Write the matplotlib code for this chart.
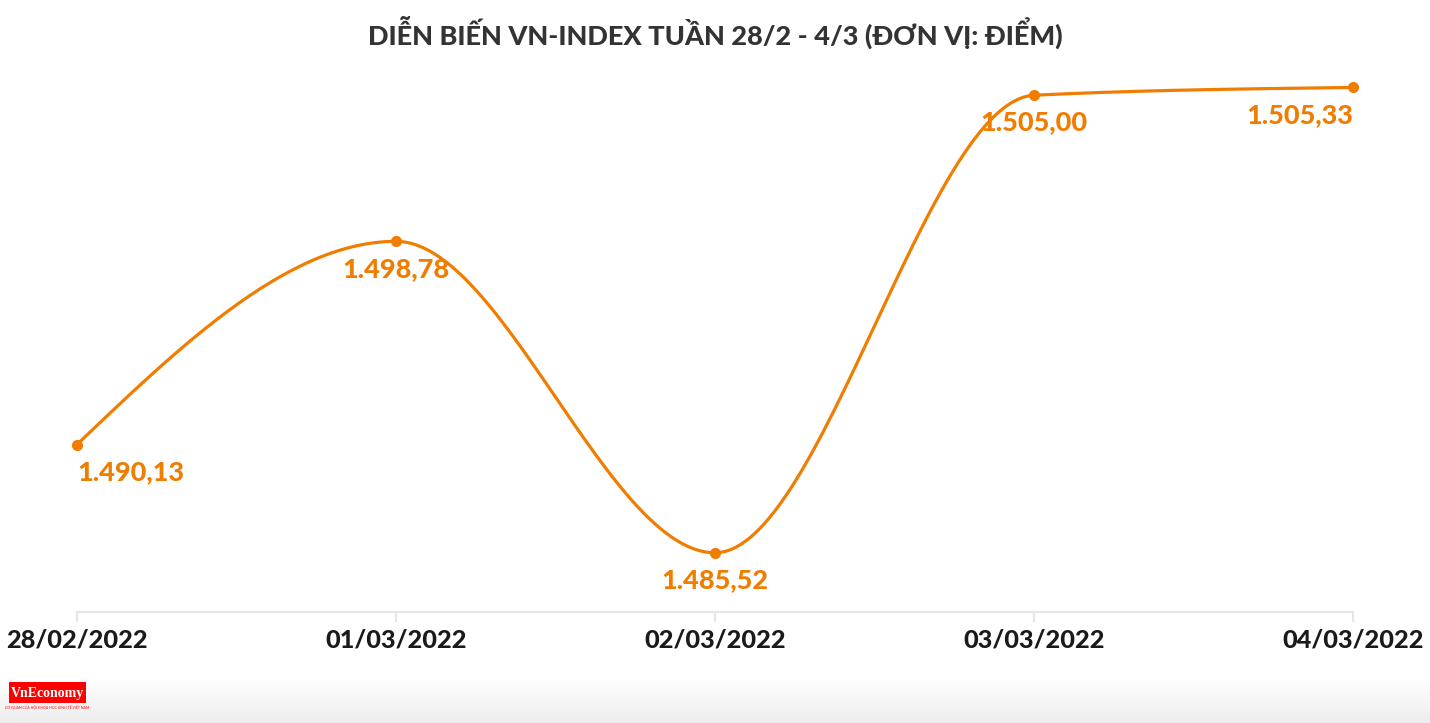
import numpy as np
import matplotlib
matplotlib.use("Agg")
import matplotlib.pyplot as plt
from matplotlib.patches import Rectangle

# ---------------------------------------------------------
# DATI
# ---------------------------------------------------------
dates = ["28/02/2022", "01/03/2022", "02/03/2022", "03/03/2022", "04/03/2022"]
values = [1490.13, 1498.78, 1485.52, 1505.00, 1505.33]
labels = ["1.490,13", "1.498,78", "1.485,52", "1.505,00", "1.505,33"]

ORANGE = "#f07d00"
W, H = 1430, 723


def monotone_curve(x, y, n=60):
    # curva monotona stile d3 (curveMonotoneX)
    x = np.asarray(x, float)
    y = np.asarray(y, float)
    h = np.diff(x)
    s = np.diff(y) / h
    t = np.zeros(len(x))
    for i in range(1, len(x) - 1):
        p = (s[i - 1] * h[i] + s[i] * h[i - 1]) / (h[i - 1] + h[i])
        t[i] = (np.sign(s[i - 1]) + np.sign(s[i])) * min(abs(s[i - 1]), abs(s[i]), 0.5 * abs(p))
    t[0] = (3 * s[0] - t[1]) / 2
    t[-1] = (3 * s[-1] - t[-2]) / 2
    xs, ys = [], []
    for i in range(len(x) - 1):
        u = np.linspace(0, 1, n)
        h00 = 2 * u**3 - 3 * u**2 + 1
        h10 = u**3 - 2 * u**2 + u
        h01 = -2 * u**3 + 3 * u**2
        h11 = u**3 - u**2
        xs.append(x[i] + u * h[i])
        ys.append(h00 * y[i] + h10 * h[i] * t[i] + h01 * y[i + 1] + h11 * h[i] * t[i + 1])
    return np.concatenate(xs), np.concatenate(ys)


plt.rcParams["font.family"] = ["Lato", "DejaVu Sans"]

fig = plt.figure(figsize=(W / 100, H / 100), dpi=100)
fig.patch.set_facecolor("white")

# sfumatura grigia in basso
bg = fig.add_axes([0, 0, 1, 45 / H])
g = np.linspace(1.0, 0.93, 50).reshape(-1, 1, 1) * np.ones((1, 1, 3))
bg.imshow(g, aspect="auto", extent=[0, 1, 0, 1])
bg.axis("off")

ax = fig.add_axes([77 / W, (H - 612) / H, 1276 / W, 552 / H])
ax.set_facecolor("none")

xi = np.arange(len(dates))
cx, cy = monotone_curve(xi, values)
ax.plot(cx, cy, color=ORANGE, lw=2.3, solid_capstyle="round", zorder=3, clip_on=False)
ax.plot(xi, values, "o", color=ORANGE, ms=7, zorder=4, clip_on=False)

aligns = ["left", "center", "center", "center", "right"]
for x, v, lab, al in zip(xi, values, labels, aligns):
    ax.annotate(lab, (x, v), xytext=(0, -11), textcoords="offset points",
                ha=al, va="top", fontsize=19.5, fontweight="black", color=ORANGE, zorder=5)

ax.set_xlim(0, 4)
ax.set_ylim(1483.0, 1506.5)
ax.set_xticks(xi)
ax.set_xticklabels(dates, fontsize=18.2, fontweight="black", color="#1a1a1a")
ax.set_yticks([])
for sp in ["top", "right", "left"]:
    ax.spines[sp].set_visible(False)
ax.spines["bottom"].set_color("#e6e6e6")
ax.spines["bottom"].set_linewidth(1.5)
ax.tick_params(axis="x", direction="out", length=7, width=1.5, color="#e6e6e6", pad=5)

fig.text(0.5, 1 - 32 / H, "DIỄN BIẾN VN-INDEX TUẦN 28/2 - 4/3 (ĐƠN VỊ: ĐIỂM)",
         ha="center", va="center", fontsize=19.5, fontweight="black", color="#333333")

# logo VnEconomy
fig.patches.append(Rectangle((9 / W, 1 - 703 / H), 77 / W, 21 / H,
                             transform=fig.transFigure, facecolor="#ff0000", edgecolor="none"))
fig.text(47 / W, 1 - 694 / H, "VnEconomy", ha="center", va="center", fontsize=10,
         fontweight="bold", color="white", family="Liberation Serif")
fig.text(47 / W, 1 - 707 / H, "CƠ QUAN CỦA HỘI KHOA HỌC KINH TẾ VIỆT NAM", ha="center",
         va="center", fontsize=2.5, color="#ff0000")

fig.savefig("out.png", dpi=100)
